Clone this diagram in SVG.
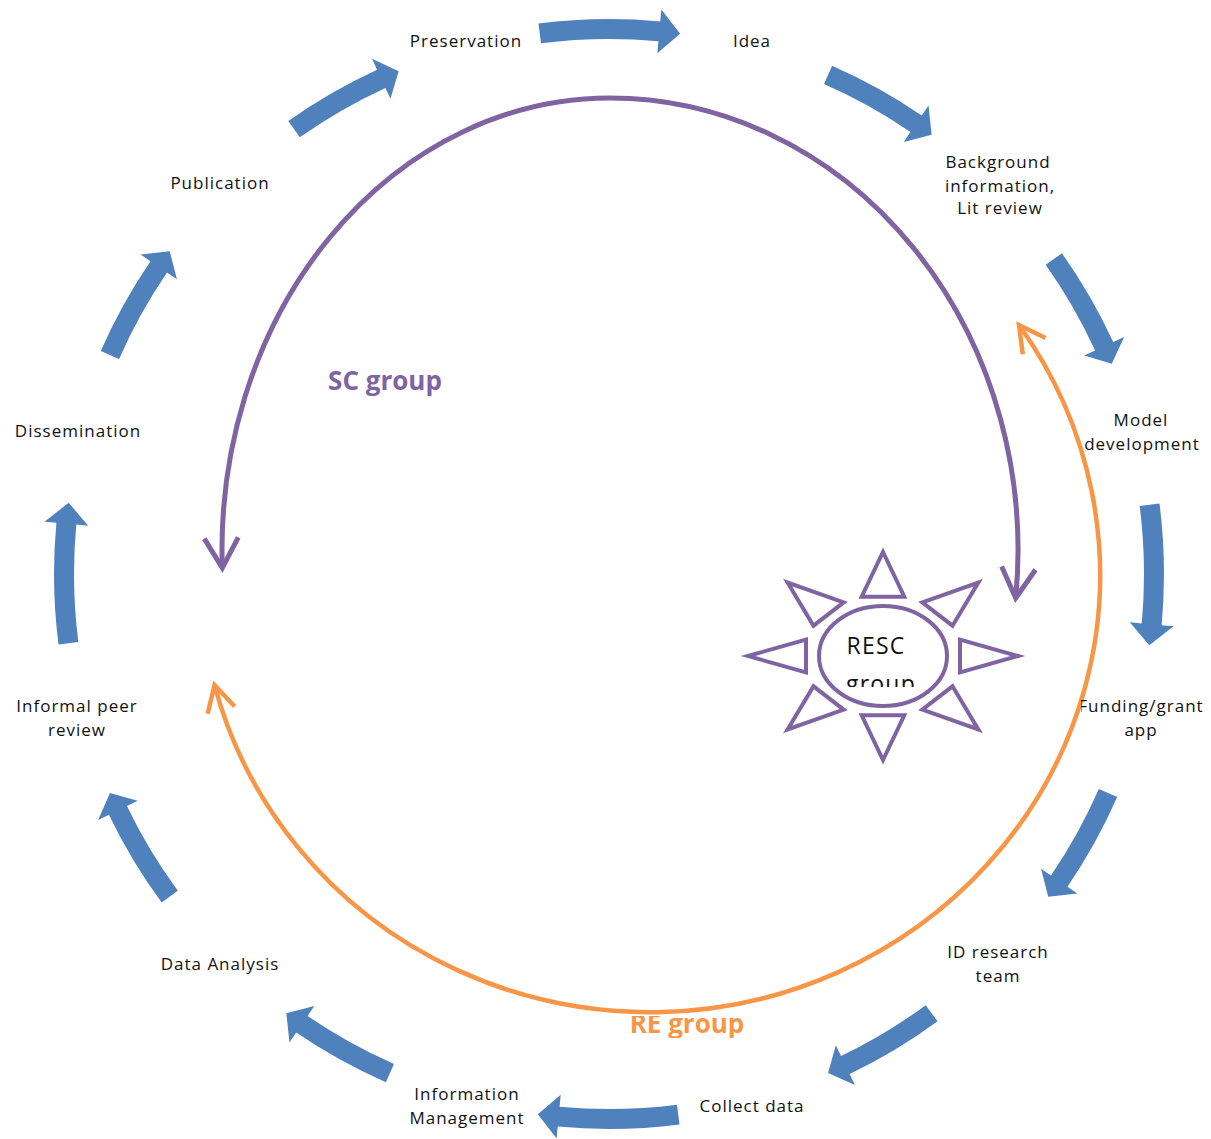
<svg xmlns="http://www.w3.org/2000/svg" xmlns:xlink="http://www.w3.org/1999/xlink" width="1211" height="1139" viewBox="0 0 1211 1139">
<style>
.lbl{font-family:"Open Sans","Liberation Sans",sans-serif;font-size:17px;letter-spacing:1px;fill:#111;text-anchor:middle}
.blue{fill:#4F81BD}
.ray{fill:none;stroke:#8064A2;stroke-width:4;stroke-linejoin:miter}
.grp{font-family:"Open Sans","Liberation Sans",sans-serif;font-weight:bold;font-size:26px;text-anchor:middle}
</style>
<defs>
<path id="ba" d="M -70.52,-550.50 A 555 555 0 0 1 51.27,-552.62 L 52.37,-564.57 L 71.14,-540.33 L 48.31,-520.76 L 49.42,-532.71 A 535 535 0 0 0 -67.98,-530.67 Z"/>
<path id="bs" d="M -60.90,-551.65 A 555 555 0 0 1 41.61,-553.44 L 42.51,-565.41 L 59.80,-541.71 L 39.21,-521.53 L 40.11,-533.50 A 535 535 0 0 0 -58.71,-531.77 Z"/>
<marker id="mp" markerUnits="userSpaceOnUse" markerWidth="60" markerHeight="60" viewBox="-40 -30 50 60" refX="0" refY="0" orient="auto-start-reverse" overflow="visible">
<path d="M -30,-17 L 0,0 L -30,17" fill="none" stroke="#8064A2" stroke-width="5"/>
</marker>
<marker id="mo" markerUnits="userSpaceOnUse" markerWidth="60" markerHeight="60" viewBox="-40 -30 50 60" refX="0" refY="0" orient="auto-start-reverse" overflow="visible">
<path d="M -26,-14 L 0,0 L -26,14" fill="none" stroke="#F79646" stroke-width="4.5"/>
</marker>
<clipPath id="cRE"><rect x="600" y="1016" width="180" height="22"/></clipPath>
<clipPath id="cGroup"><rect x="820" y="660" width="130" height="27"/></clipPath>
<clipPath id="cFund"><rect x="1081" y="690" width="130" height="30"/></clipPath>
</defs>
<rect width="1211" height="1139" fill="#fff"/>

<g id="cycle-arrows" class="blue">
<use xlink:href="#ba" transform="translate(609,574) rotate(0)"/>
<use xlink:href="#bs" transform="translate(609,574) rotate(30)"/>
<use xlink:href="#bs" transform="translate(609,574) rotate(61)"/>
<use xlink:href="#ba" transform="translate(609,574) rotate(90)"/>
<use xlink:href="#bs" transform="translate(609,574) rotate(120)"/>
<use xlink:href="#bs" transform="translate(609,574) rotate(150)"/>
<use xlink:href="#ba" transform="translate(609,574) rotate(180)"/>
<use xlink:href="#bs" transform="translate(609,574) rotate(210)"/>
<use xlink:href="#bs" transform="translate(609,574) rotate(240)"/>
<use xlink:href="#ba" transform="translate(609,574) rotate(270)"/>
<use xlink:href="#bs" transform="translate(609,574) rotate(300)"/>
<use xlink:href="#bs" transform="translate(609,574) rotate(331)"/>
</g>

<g id="group-arcs" fill="none">
<path id="sc-arc" d="M 222.3,568 A 388 452 0 0 1 610,98 A 408 452 0 0 1 1015.7,598" stroke="#8064A2" stroke-width="5" marker-start="url(#mp)" marker-end="url(#mp)"/>
<path id="re-arc" d="M 214.5,685 A 450 437 0 1 0 1019,325" stroke="#F79646" stroke-width="4.5" marker-start="url(#mo)" marker-end="url(#mo)"/>
</g>

<g id="n-preservation"><text class="lbl" x="466" y="47">Preservation</text></g>
<g id="n-idea"><text class="lbl" x="752" y="47">Idea</text></g>
<g id="n-background"><text class="lbl" x="998" y="168">Background</text><text class="lbl" x="1000" y="192">information,</text><text class="lbl" x="1000" y="214">Lit review</text></g>
<g id="n-model"><text class="lbl" x="1141" y="426">Model</text><text class="lbl" x="1142" y="450">development</text></g>
<g id="n-funding"><g clip-path="url(#cFund)"><text class="lbl" x="1141" y="712">Funding/grant</text></g><text class="lbl" x="1141" y="736">app</text></g>
<g id="n-id"><text class="lbl" x="998" y="958">ID research</text><text class="lbl" x="998" y="982">team</text></g>
<g id="n-collect"><text class="lbl" x="752" y="1112">Collect data</text></g>
<g id="n-infomgmt"><text class="lbl" x="467" y="1100">Information</text><text class="lbl" x="467" y="1124">Management</text></g>
<g id="n-analysis"><text class="lbl" x="220" y="970">Data Analysis</text></g>
<g id="n-informal"><text class="lbl" x="77" y="712">Informal peer</text><text class="lbl" x="77" y="736">review</text></g>
<g id="n-dissemination"><text class="lbl" x="78" y="437">Dissemination</text></g>
<g id="n-publication"><text class="lbl" x="220" y="189">Publication</text></g>

<g id="n-sc"><text class="grp" x="385" y="390" fill="#8064A2">SC group</text></g>
<g id="n-re"><g clip-path="url(#cRE)"><text class="grp" x="687" y="1033" fill="#F79646">RE group</text></g></g>

<g id="n-resc">
<ellipse cx="883" cy="656" rx="64" ry="50" class="ray"/>
<polygon class="ray" points="883,552 904.3,596.7 861.7,596.7"/>
<polygon class="ray" points="883,760 904.3,715.3 861.7,715.3"/>
<polygon class="ray" points="1018,656 960,639.6 960,672.4"/>
<polygon class="ray" points="748,656 806,639.6 806,672.4"/>
<polygon class="ray" points="978.4,582.5 952.5,625.7 922.3,602.4"/>
<polygon class="ray" points="978.4,729.5 952.5,686.3 922.3,709.6"/>
<polygon class="ray" points="787.6,729.5 813.5,686.3 843.7,709.6"/>
<polygon class="ray" points="787.6,582.5 813.5,625.7 843.7,602.4"/>
<text x="876" y="654" font-family="Open Sans, Liberation Sans, sans-serif" font-size="23" letter-spacing="1.2" fill="#111" text-anchor="middle">RESC</text>
<g clip-path="url(#cGroup)"><text x="881" y="692" font-family="Open Sans, Liberation Sans, sans-serif" font-size="23" letter-spacing="1.2" fill="#111" text-anchor="middle">group</text></g>
</g>
</svg>
